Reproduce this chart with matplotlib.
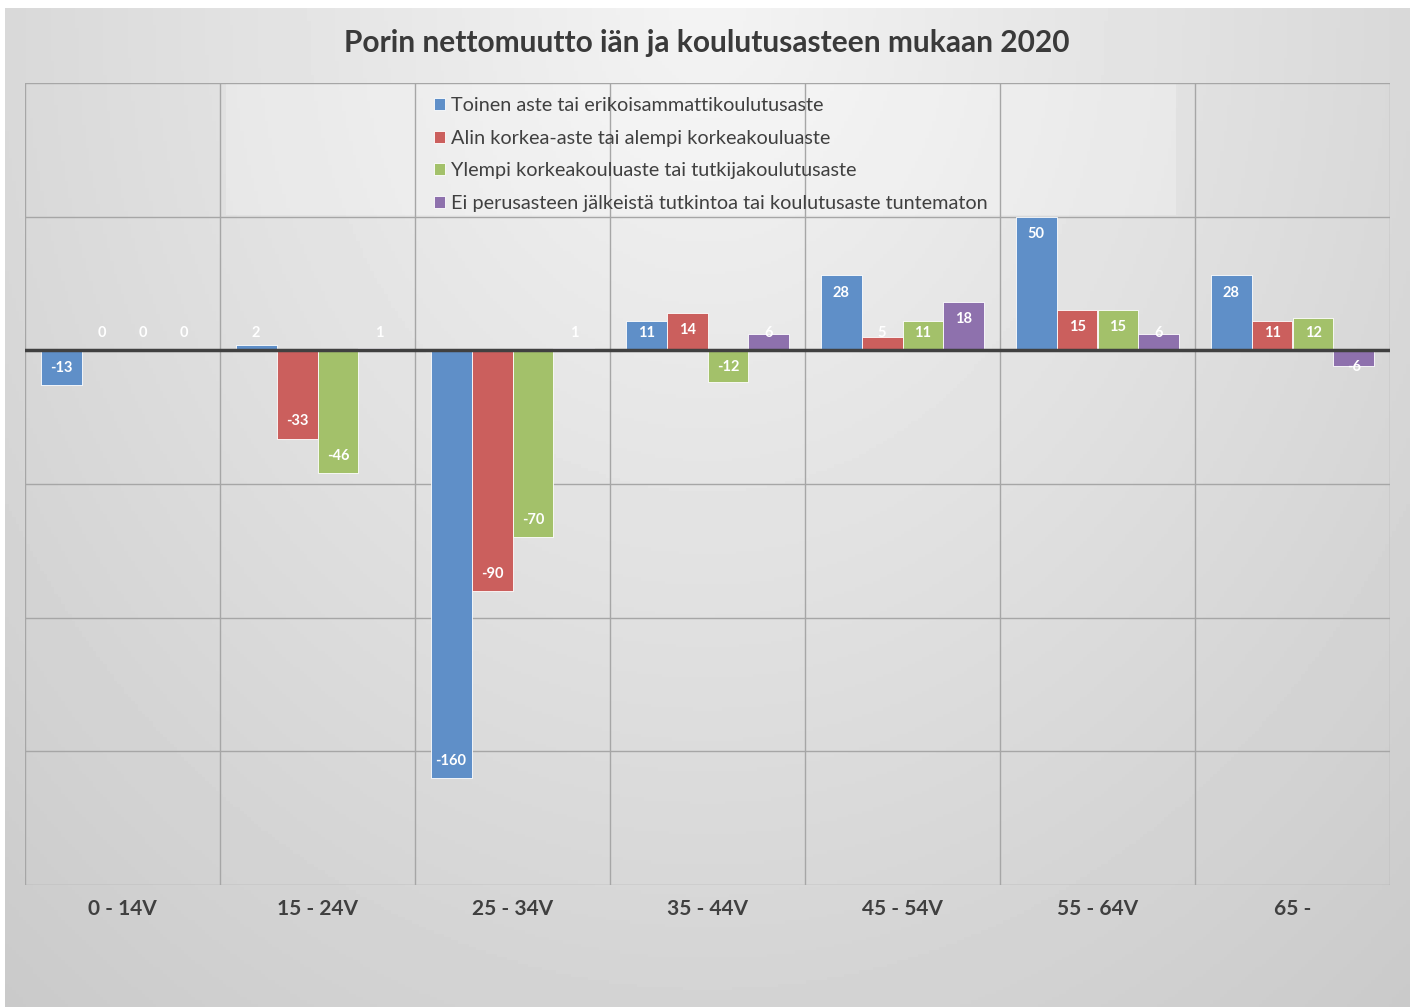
import numpy as np
import matplotlib
matplotlib.use('Agg')
import matplotlib.pyplot as plt
from matplotlib.patches import Rectangle

plt.rcParams['font.family'] = ['Lato', 'DejaVu Sans']

# Data
categories = ['0 - 14V', '15 - 24V', '25 - 34V', '35 - 44V', '45 - 54V', '55 - 64V', '65 -']
series_names = [
    'Toinen aste tai erikoisammattikoulutusaste',
    'Alin korkea-aste tai alempi korkeakouluaste',
    'Ylempi korkeakouluaste tai tutkijakoulutusaste',
    'Ei perusasteen jälkeistä tutkintoa tai koulutusaste tuntematon',
]
toinen_aste = [-13, 2, -160, 11, 28, 50, 28]
alin_korkea = [0, -33, -90, 14, 5, 15, 11]
ylempi_korkea = [0, -46, -70, -12, 11, 15, 12]
ei_perusaste = [0, 1, 1, 6, 18, 6, -6]
series_values = [toinen_aste, alin_korkea, ylempi_korkea, ei_perusaste]
colors = ['#5f8fc8', '#cb5f5d', '#a3c16a', '#8e71ad']

W, H = 1415, 1007
fig = plt.figure(figsize=(W / 100, H / 100), dpi=100)
fig.patch.set_facecolor('white')

# Chart area background with a soft radial gradient
bg = fig.add_axes([5 / W, 0, 1405 / W, 999 / H], zorder=-10)
gx, gy = np.meshgrid(np.linspace(-1, 1, 400), np.linspace(0, 1, 300))
r = np.sqrt((gx * 0.85) ** 2 + gy ** 2)
shade = np.clip(0.955 - 0.125 * r, 0, 1)
bg.imshow(shade, cmap='gray', vmin=0, vmax=1, aspect='auto', extent=[0, 1, 0, 1], origin='upper')
bg.set_axis_off()

ax = fig.add_axes([25 / W, (H - 885) / H, 1365 / W, 802 / H])
ax.set_facecolor('none')
ax.set_xlim(-0.5, len(categories) - 0.5)
ax.set_ylim(-200, 100)

# Faint legend backdrop
ax.add_patch(Rectangle((0.53, 50.5), 4.87, 49, transform=ax.transData,
                       facecolor='white', alpha=0.25, edgecolor='none', zorder=0))

# Gridlines
for yv in range(-200, 101, 50):
    ax.axhline(yv, color='#a6a6a6', lw=1, zorder=1)
for k in range(len(categories) + 1):
    ax.axvline(k - 0.5, color='#a6a6a6', lw=1, zorder=1)

x = np.arange(len(categories))
bar_w = 0.21
offsets = (np.arange(4) - 1.5) * bar_w
pad = 6.4
for vals, col, off, name in zip(series_values, colors, offsets, series_names):
    ax.bar(x + off, vals, width=bar_w, color=col, edgecolor='white', linewidth=0.6,
           label=name, zorder=2)
    for xi, v in zip(x, vals):
        if v >= 0:
            ly = max(v - pad, pad)
        else:
            ly = min(v + pad, -pad)
        ax.text(xi + off, ly, str(v), ha='center', va='center', color='white',
                fontsize=10.5, fontweight='bold', zorder=4)

ax.axhline(0, color='#404040', lw=2.5, zorder=3)

for s in ax.spines.values():
    s.set_visible(False)
ax.set_yticks([])
ax.set_xticks(x)
ax.set_xticklabels(categories, fontsize=15, fontweight='bold', color='#404040')
ax.tick_params(axis='x', length=0, pad=10)

fig.text(707 / W, 1 - 43 / H, 'Porin nettomuutto iän ja koulutusasteen mukaan 2020',
         ha='center', va='center', fontsize=21.5, fontweight='bold', color='#3a3a3a')

leg = ax.legend(loc='upper left', bbox_to_anchor=(424 / W, 1 - 87 / H),
                bbox_transform=fig.transFigure, frameon=False, fontsize=14.3,
                handlelength=0.55, handleheight=0.55, handletextpad=0.3,
                labelspacing=0.79, borderpad=0)
for t in leg.get_texts():
    t.set_color('#404040')

fig.savefig('out.png', dpi=100)
